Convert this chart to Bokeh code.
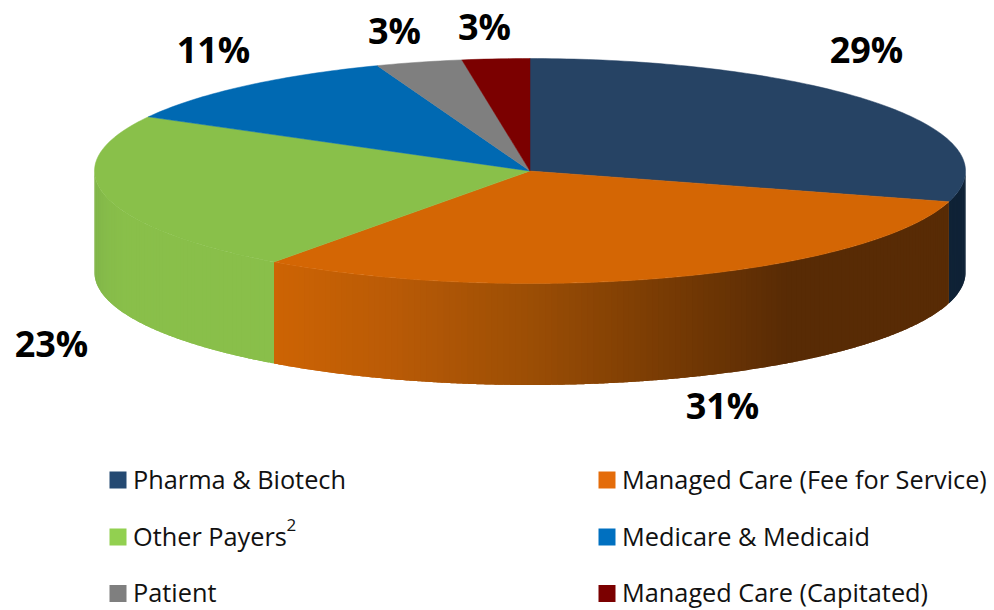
import math
from bokeh.plotting import figure
from bokeh.models import Range1d
from bokeh.core.properties import value
from bokeh.embed import file_html
from bokeh.resources import INLINE

# ---- data ----
categories = ["Pharma & Biotech", "Managed Care (Fee for Service)", "Other Payers",
              "Medicare & Medicaid", "Patient", "Managed Care (Capitated)"]
shares = [29.4, 30.6, 23, 11.3, 3.2, 2.5]
share_labels = ["29%", "31%", "23%", "11%", "3%", "3%"]

# ---- styles ----
top_colors = ["#264364", "#D46604", "#89C04A", "#0069B2", "#7F7F7F", "#7B0000"]
legend_colors = ["#254A72", "#E46C0A", "#92D050", "#0070C0", "#7F7F7F", "#7B0000"]
NAVY_SIDE = "#0F2236"

# ---- layout (screen pixels of the 994x610 page) ----
W, H = 994, 610
CX, CY, RX, RY, DEPTH = 529.5, 170.5, 435.5, 112.5, 101.5
label_pos = [(866, 49), (722, 405), (51, 343), (213, 49), (394, 30), (484, 26)]
legend_pos = [(109, 479.5), (598, 479.5), (109, 536.5), (598, 536.5), (109, 593), (598, 593)]
SWATCH = 17
TEXT_GAP = 23.5

p = figure(width=W, height=H, output_backend="svg", toolbar_location=None,
           x_range=Range1d(0, W), y_range=Range1d(H, 0),
           min_border=0, outline_line_color=None, background_fill_color="white",
           border_fill_color="white")
p.axis.visible = False
p.grid.visible = False


def pt(theta, drop=0.0):
    return (CX + RX * math.sin(theta), CY - RY * math.cos(theta) + drop)


def hexrgb(c):
    return tuple(int(c[i:i + 2], 16) for i in (1, 3, 5))


def ramp(x, stops):
    if x <= stops[0][0]:
        return stops[0][1]
    for (x0, c0), (x1, c1) in zip(stops, stops[1:]):
        if x <= x1:
            t = (x - x0) / (x1 - x0)
            a, b = hexrgb(c0), hexrgb(c1)
            return "#%02X%02X%02X" % tuple(round(u + (v - u) * t) for u, v in zip(a, b))
    return stops[-1][1]


# cumulative slice angles, clockwise from twelve o'clock
edges = [0.0]
for s in shares:
    edges.append(edges[-1] + s / sum(shares) * 2 * math.pi)

orange_ramp = [(274, "#CE6404"), (400, "#B85A06"), (530, "#9C4E05"), (660, "#7A3C04"), (790, "#582B05")]
green_ramp = [(94, "#80B549"), (106, "#86BC4A"), (126, "#89BF4A")]


def side_strips(a0, a1, color_fn):
    """Wall painted as overlapping strips, so no seams show between them."""
    xs, ys, cs = [], [], []
    n = max(2, int(abs(a1 - a0) * RX / 6))
    for i in range(n):
        t0 = a0 + (a1 - a0) * i / n
        t1 = a0 + (a1 - a0) * min(i + 2, n) / n
        arc = [pt(t0 + (t1 - t0) * k / 6) for k in range(7)]
        low = [pt(t0 + (t1 - t0) * k / 6, DEPTH) for k in range(6, -1, -1)]
        xs.append([q[0] for q in arc + low])
        ys.append([q[1] for q in arc + low])
        cs.append(color_fn(pt(t0)[0]))
    p.patches(xs, ys, fill_color=cs, line_color=None)


# front-facing side walls
side_strips(math.pi / 2, edges[1], lambda x: NAVY_SIDE)
side_strips(edges[1], edges[2], lambda x: ramp(x, orange_ramp))
side_strips(edges[2], 1.5 * math.pi, lambda x: ramp(x, green_ramp))

# top faces
for i in range(len(shares)):
    n = max(8, int((edges[i + 1] - edges[i]) * 60))
    pts = [pt(edges[i] + (edges[i + 1] - edges[i]) * k / n) for k in range(n + 1)]
    xs = [CX] + [q[0] for q in pts]
    ys = [CY] + [q[1] for q in pts]
    p.patch(xs, ys, fill_color=top_colors[i], line_color=top_colors[i], line_width=0.5)

# percentage labels
p.text([q[0] for q in label_pos], [q[1] for q in label_pos], text=share_labels,
       text_font=value("Open Sans"), text_font_style="bold", text_font_size="36px",
       text_color="#000000", text_align="center", text_baseline="middle")

# legend
p.quad(left=[q[0] for q in legend_pos], right=[q[0] + SWATCH for q in legend_pos],
       top=[q[1] - SWATCH / 2 for q in legend_pos], bottom=[q[1] + SWATCH / 2 for q in legend_pos],
       fill_color=legend_colors, line_color=None)
p.text([q[0] + TEXT_GAP for q in legend_pos], [q[1] - 1.5 for q in legend_pos], text=categories,
       text_font=value("Open Sans"), text_font_size="25.3px", text_color="#111111",
       text_align="left", text_baseline="middle")
p.text([286], [524], text=["2"], text_font=value("Open Sans"), text_font_size="17px",
       text_color="#111111", text_align="left", text_baseline="middle")

open("out.html", "w").write(file_html(p, INLINE))
